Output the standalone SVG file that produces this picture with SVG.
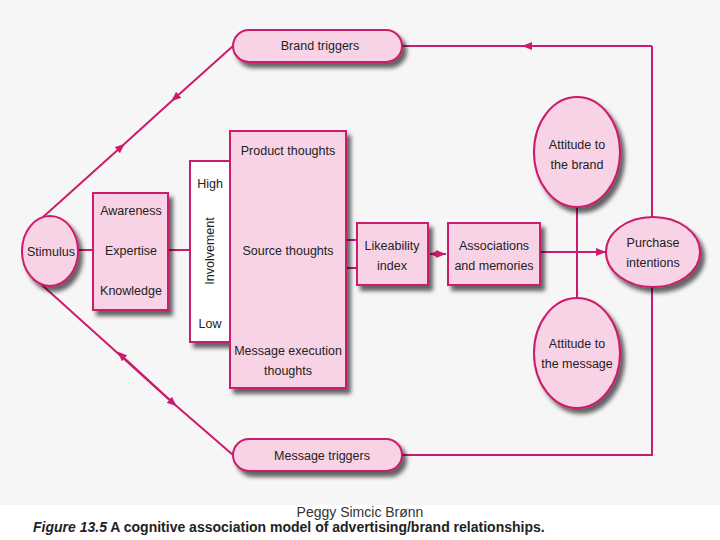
<svg xmlns="http://www.w3.org/2000/svg" width="720" height="540" viewBox="0 0 720 540">
<style>
.n{fill:#f8d3e6;stroke:#cc1a6c;stroke-width:2}
.w{fill:#ffffff;stroke:#cc1a6c;stroke-width:2}
.t{font-family:"Liberation Sans",sans-serif;font-size:12.5px;fill:#222;text-anchor:middle}
.c{stroke:#cc1a6c;stroke-width:2;fill:none}
</style>
<defs>
<filter id="sh" x="-20%" y="-20%" width="150%" height="150%"><feDropShadow dx="4" dy="5" stdDeviation="2" flood-color="#000" flood-opacity="0.6"/></filter>
<marker id="a" viewBox="0 0 10 10" refX="5" refY="5" markerWidth="5" markerHeight="5" orient="auto"><path d="M0,1 L10,5 L0,9 z" fill="#cc1a6c"/></marker>
<marker id="e" viewBox="0 0 10 10" refX="10" refY="5" markerWidth="5" markerHeight="5" orient="auto"><path d="M0,1 L10,5 L0,9 z" fill="#cc1a6c"/></marker>
</defs>
<rect x="0" y="0" width="720" height="505" fill="#f6f6f6"/>
<rect x="0" y="505" width="720" height="35" fill="#ffffff"/>
<g id="connectors">
<path class="c" d="M233,46 L175,98" marker-end="url(#a)"/><path class="c" d="M175,98 L121,147"/>
<path class="c" d="M42,218 L121,147" marker-end="url(#a)"/>
<path class="c" d="M233,455 L173,403"/><path class="c" d="M42,285 L173,403" marker-end="url(#a)"/>
<path class="c" d="M173,403 L121,355" marker-end="url(#a)"/>
<path class="c" d="M78,250 L93,250 M168,250 L190,250 M346,240 L357,240 M346,268 L357,268"/>
<path class="c" d="M652,46 L527,46" marker-end="url(#a)"/><path class="c" d="M527,46 L402,46"/>
<path class="c" d="M652,46 L652,218 M652,287 L652,455 L402,455"/>
<path class="c" d="M540,252 L606,252" marker-end="url(#e)"/>
<path class="c" d="M577,207 L577,298"/>
<path class="c" d="M430,254 L446,254" marker-start="url(#s)" marker-end="url(#e)"/>
<path d="M430,254 L437,251 L437,257 z" fill="#cc1a6c"/>
</g>
<g id="brand-triggers"><rect class="n" filter="url(#sh)" x="233" y="30" width="169" height="32" rx="16"/><text class="t" x="320" y="50">Brand triggers</text></g>
<g id="message-triggers"><rect class="n" filter="url(#sh)" x="233" y="439" width="169" height="32" rx="16"/><text class="t" x="322" y="460">Message triggers</text></g>
<g id="stimulus"><ellipse class="n" filter="url(#sh)" cx="50" cy="251" rx="28" ry="35"/><text class="t" x="51" y="256">Stimulus</text></g>
<g id="awareness"><rect class="n" filter="url(#sh)" x="93" y="193" width="75" height="117"/><text class="t" x="131" y="215">Awareness</text><text class="t" x="131" y="255">Expertise</text><text class="t" x="131" y="295">Knowledge</text></g>
<g id="involvement"><rect class="w" filter="url(#sh)" x="190" y="161" width="40" height="181"/><text class="t" x="210" y="188">High</text><text class="t" x="210" y="328">Low</text><text class="t" font-size="13.5" transform="translate(214,251) rotate(-90)">Involvement</text></g>
<g id="thoughts"><rect class="n" filter="url(#sh)" x="230" y="131" width="116" height="257"/><text class="t" x="288" y="155">Product thoughts</text><text class="t" x="288" y="255">Source thoughts</text><text class="t" x="288" y="355">Message execution</text><text class="t" x="288" y="375">thoughts</text></g>
<g id="likeability"><rect class="n" filter="url(#sh)" x="357" y="223" width="71" height="62"/><text class="t" x="392" y="250">Likeability</text><text class="t" x="392" y="270">index</text></g>
<g id="associations"><rect class="n" filter="url(#sh)" x="448" y="223" width="92" height="62"/><text class="t" x="494" y="250">Associations</text><text class="t" x="494" y="270">and memories</text></g>
<g id="attitude-brand"><ellipse class="n" filter="url(#sh)" cx="577" cy="152" rx="43" ry="55"/><text class="t" x="577" y="149">Attitude to</text><text class="t" x="577" y="169">the brand</text></g>
<g id="attitude-message"><ellipse class="n" filter="url(#sh)" cx="577" cy="353" rx="43" ry="55"/><text class="t" x="577" y="348">Attitude to</text><text class="t" x="577" y="368">the message</text></g>
<g id="purchase"><ellipse class="n" filter="url(#sh)" cx="653" cy="252" rx="47" ry="35"/><text class="t" x="653" y="247">Purchase</text><text class="t" x="653" y="267">intentions</text></g>
<text x="360" y="517" font-family="Liberation Sans,sans-serif" font-size="14" text-anchor="middle" fill="#333">Peggy Simcic Brønn</text>
<text x="33" y="532" font-family="Liberation Sans,sans-serif" font-size="14" font-weight="bold" fill="#222"><tspan font-style="italic">Figure 13.5</tspan>  A cognitive association model of advertising/brand relationships.</text>
</svg>
